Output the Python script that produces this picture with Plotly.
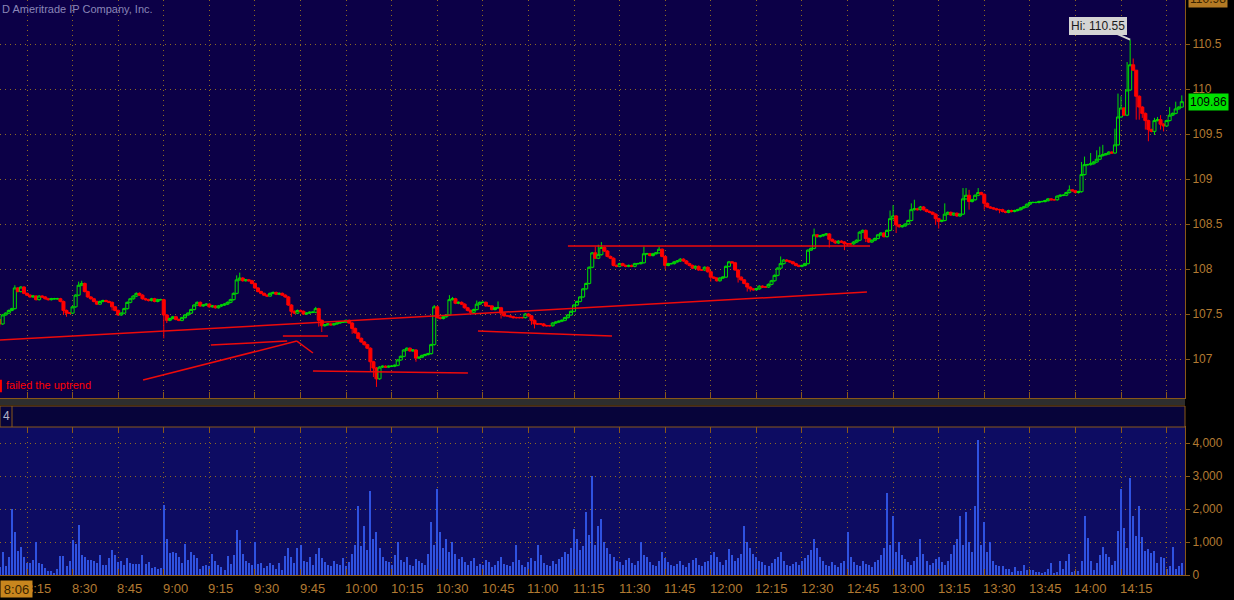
import pandas as pd
import plotly.graph_objects as go

# ---------------- data (1-minute bars, 08:06 .. 14:35) ----------------
SESSION_DAY = "2010-06-01"
SESSION_START = SESSION_DAY + " 08:06"

closes = [
    107.39, 107.49, 107.51, 107.54, 107.56, 107.79, 107.75, 107.80, 107.73, 107.71,
    107.69, 107.70, 107.66, 107.70, 107.69, 107.67, 107.66, 107.67, 107.67, 107.67,
    107.64, 107.54, 107.51, 107.51, 107.58, 107.71, 107.82, 107.84, 107.75, 107.69,
    107.67, 107.64, 107.61, 107.64, 107.65, 107.64, 107.63, 107.58, 107.54, 107.49,
    107.51, 107.56, 107.63, 107.67, 107.70, 107.73, 107.71, 107.67, 107.66, 107.65,
    107.67, 107.64, 107.66, 107.66, 107.49, 107.43, 107.45, 107.47, 107.44, 107.43,
    107.46, 107.49, 107.51, 107.55, 107.60, 107.63, 107.59, 107.60, 107.61, 107.58,
    107.59, 107.57, 107.59, 107.60, 107.61, 107.63, 107.66, 107.73, 107.88, 107.90,
    107.87, 107.88, 107.87, 107.84, 107.79, 107.75, 107.73, 107.71, 107.70, 107.73,
    107.74, 107.72, 107.73, 107.71, 107.69, 107.60, 107.53, 107.51, 107.54, 107.53,
    107.50, 107.51, 107.52, 107.52, 107.56, 107.43, 107.37, 107.38, 107.39, 107.38,
    107.39, 107.40, 107.41, 107.41, 107.43, 107.40, 107.34, 107.29, 107.23, 107.19,
    107.16, 107.12, 106.97, 106.90, 106.78, 106.91, 106.92, 106.91, 106.92, 106.92,
    106.93, 106.99, 107.03, 107.10, 107.12, 107.09, 107.10, 107.01, 107.02, 107.04,
    107.05, 107.06, 107.16, 107.58, 107.46, 107.45, 107.47, 107.49, 107.66, 107.67,
    107.62, 107.63, 107.61, 107.57, 107.54, 107.52, 107.55, 107.61, 107.63, 107.63,
    107.59, 107.59, 107.55, 107.57, 107.57, 107.51, 107.48, 107.48, 107.47, 107.46,
    107.46, 107.46, 107.46, 107.50, 107.48, 107.43, 107.39, 107.39, 107.39, 107.37,
    107.37, 107.37, 107.40, 107.41, 107.42, 107.43, 107.46, 107.49, 107.53, 107.60,
    107.64, 107.69, 107.78, 107.84, 108.02, 108.18, 108.12, 108.16, 108.24, 108.20,
    108.14, 108.12, 108.04, 108.03, 108.06, 108.04, 108.03, 108.04, 108.03, 108.06,
    108.06, 108.07, 108.17, 108.17, 108.15, 108.17, 108.18, 108.22, 108.14, 108.04,
    108.06, 108.06, 108.08, 108.09, 108.11, 108.09, 108.06, 108.04, 108.01, 108.03,
    107.99, 107.99, 108.02, 107.97, 107.91, 107.90, 107.87, 107.90, 107.91, 108.03,
    108.08, 108.07, 107.99, 107.91, 107.88, 107.84, 107.80, 107.78, 107.77, 107.78,
    107.81, 107.80, 107.80, 107.83, 107.87, 107.93, 108.01, 108.06, 108.10, 108.09,
    108.08, 108.06, 108.04, 108.03, 108.04, 108.06, 108.21, 108.23, 108.38, 108.36,
    108.37, 108.38, 108.39, 108.33, 108.31, 108.29, 108.31, 108.30, 108.28, 108.28,
    108.28, 108.30, 108.32, 108.41, 108.43, 108.34, 108.30, 108.32, 108.34, 108.38,
    108.40, 108.36, 108.43, 108.56, 108.59, 108.49, 108.47, 108.48, 108.50, 108.54,
    108.66, 108.67, 108.66, 108.69, 108.66, 108.64, 108.63, 108.61, 108.56, 108.53,
    108.54, 108.61, 108.63, 108.60, 108.62, 108.59, 108.61, 108.78, 108.82, 108.75,
    108.77, 108.82, 108.85, 108.83, 108.73, 108.69, 108.68, 108.67, 108.66, 108.66,
    108.64, 108.63, 108.65, 108.64, 108.65, 108.66, 108.68, 108.69, 108.72, 108.74,
    108.74, 108.74, 108.75, 108.75, 108.76, 108.78, 108.77, 108.77, 108.81, 108.82,
    108.82, 108.85, 108.88, 108.87, 108.85, 108.86, 109.05, 109.16, 109.16, 109.17,
    109.19, 109.22, 109.26, 109.27, 109.28, 109.30, 109.29, 109.38, 109.69, 109.79,
    109.71, 109.99, 110.27, 110.21, 109.92, 109.80, 109.73, 109.65, 109.55, 109.53,
    109.65, 109.66, 109.61, 109.59, 109.65, 109.71, 109.73, 109.78, 109.80, 109.86,
]
first_open = 107.44

# notable wick extremes (bar index -> price)
high_marks = {5: 107.82, 26: 107.86, 27: 107.87, 78: 107.93, 79: 107.96, 104: 107.58,
              143: 107.60, 148: 107.71, 149: 107.69, 157: 107.65, 164: 107.64,
              196: 108.25, 197: 108.27, 198: 108.30, 199: 108.25, 212: 108.25, 217: 108.25,
              257: 108.14, 268: 108.45, 293: 108.65, 294: 108.71, 300: 108.73, 301: 108.77,
              311: 108.73, 317: 108.90, 318: 108.90, 319: 108.88, 322: 108.90, 352: 108.93,
              356: 109.19, 357: 109.25, 359: 109.29, 361: 109.32, 362: 109.36, 363: 109.38,
              367: 109.56, 368: 109.95, 369: 109.92, 371: 110.30, 372: 110.55, 373: 110.34,
              374: 110.21, 380: 109.68, 381: 109.69, 382: 109.71, 385: 109.80, 387: 109.86,
              389: 109.93}
low_marks = {0: 107.36, 21: 107.49, 22: 107.47, 37: 107.54, 54: 107.23, 55: 107.40,
             96: 107.47, 105: 107.36, 106: 107.30, 116: 107.28, 122: 106.86, 123: 106.80,
             124: 106.69, 137: 106.97, 165: 107.45, 175: 107.38, 176: 107.34, 219: 108.00,
             234: 107.86, 243: 107.85, 246: 107.75, 247: 107.75, 273: 108.24, 278: 108.21,
             285: 108.30, 295: 108.40, 308: 108.49, 309: 108.45, 319: 108.66, 324: 108.66,
             329: 108.62, 374: 109.66, 375: 109.66, 376: 109.68, 377: 109.55, 378: 109.42,
             380: 109.49, 382: 109.55, 383: 109.53}
tick_size = 0.01

volumes = [
    253, 707, 283, 556, 2000, 1303, 727, 848, 545, 354,
    354, 455, 990, 364, 333, 212, 121, 121, 40, 182,
    576, 576, 273, 424, 1060, 939, 1515, 606, 545, 455,
    455, 424, 364, 606, 303, 303, 515, 758, 606, 394,
    424, 303, 515, 364, 333, 333, 333, 606, 333, 394,
    212, 242, 182, 212, 2121, 1091, 667, 697, 667, 545,
    364, 939, 455, 697, 606, 515, 182, 273, 303, 273,
    636, 424, 303, 242, 152, 576, 333, 606, 1364, 1060,
    636, 424, 364, 303, 1000, 333, 364, 212, 273, 364,
    303, 182, 364, 152, 576, 818, 545, 364, 818,
    900, 420, 380, 560, 300, 640, 820, 520, 380, 300, 260,
    420, 340, 300, 520, 260, 380, 640, 900,
    2100, 880, 1500, 760, 2550, 1100, 1300, 820,
    540, 420, 380, 300, 600, 1000, 460, 380, 540, 300, 260, 480, 420, 360, 300, 640,
    1600, 900, 2600, 1300, 820, 1100, 700, 1000,
    640, 480, 560, 380, 300, 420, 520, 260, 340, 300, 460, 380, 240, 300, 420, 560, 340, 300, 260, 380,
    900, 460, 300, 240, 380, 520, 420, 900, 600, 360, 300, 260, 420, 340, 480, 560, 700, 640, 820,
    1400, 1100, 760, 880, 1900, 1200, 3000, 900, 1500, 1700, 1000,
    820, 640, 560, 420, 380, 300, 460, 520, 360, 300, 420, 1000, 600, 540, 380, 300, 260, 420, 700, 520,
    380, 300, 260, 340, 420, 300, 240, 360, 460, 520, 300, 260, 380, 420, 600, 700, 540, 380, 300, 460,
    780, 600, 420, 520, 640,
    1500, 1000,
    820, 640, 560, 420, 380, 300, 260, 360, 480, 560, 700, 420, 300, 260, 340, 380, 300, 420, 520, 600,
    760, 1100, 820, 540, 420, 300, 260, 380, 300, 240, 360, 420, 1300, 540, 380, 300, 260, 420, 340, 300,
    240, 380, 460, 600, 820,
    2500, 900, 1800, 700, 1000,
    620, 480, 380, 300, 420, 560, 1100, 640, 420, 300, 360, 480, 560, 380, 300, 420, 640, 900, 1100,
    1800, 900, 1900, 1000, 700, 2100, 4100, 900, 1600, 700, 1000,
    420, 300, 260,
    283, 182, 182, 91, 242, 121, 121, 303, 152, 152,
    152, 91, 91, 61, 91, 182, 364, 61, 91, 424,
    182, 424, 636, 91, 121, 121, 424, 1788, 1121, 424,
    152, 364, 606, 848, 636, 545, 303, 424, 1333, 2606,
    1424, 818, 2939, 1788, 1182, 2091, 1151, 727, 788, 667,
    727, 364, 545, 515, 182, 273, 848, 182, 273, 364,
]

price_ticks = [107, 107.5, 108, 108.5, 109, 109.5, 110, 110.5]
volume_ticks = [0, 1000, 2000, 3000, 4000]
time_labels = ["8:15", "8:30", "8:45", "9:00", "9:15", "9:30", "9:45", "10:00", "10:15",
               "10:30", "10:45", "11:00", "11:15", "11:30", "11:45", "12:00", "12:15",
               "12:30", "12:45", "13:00", "13:15", "13:30", "13:45", "14:00", "14:15"]

# hand-drawn trend lines (start time, start price, end time, end price)
trend_lines = [
    ("08:06:07", 107.211, "12:51:24", 107.744),
    ("11:13:00", 108.256, "12:52:24", 108.256),
    ("08:53:12", 106.767, "09:43:48", 107.200),
    ("09:43:48", 107.200, "09:49:06", 107.067),
    ("09:15:30", 107.156, "09:40:36", 107.200),
    ("09:39:12", 107.256, "09:54:03", 107.256),
    ("09:49:06", 106.867, "10:40:06", 106.844),
    ("10:43:24", 107.311, "11:27:30", 107.256),
]
note_text = "failed the uptrend"
note_time, note_price = "08:07:30", 106.71
hi_value = 110.55
last_value = 109.86
axis_top_value = "110.98"
start_label = "8:06"
copyright_text = "D Ameritrade IP Company, Inc."

# ---------------- build OHLC ----------------
n = min(len(closes), len(volumes))
closes = closes[:n]
volumes = volumes[:n]
times = pd.date_range(SESSION_START, periods=n, freq="min")
opens = [first_open] + closes[:-1]
highs = [high_marks.get(i, max(o, c) + tick_size) for i, (o, c) in enumerate(zip(opens, closes))]
lows = [low_marks.get(i, min(o, c) - tick_size) for i, (o, c) in enumerate(zip(opens, closes))]
hi_index = max(range(n), key=lambda i: highs[i])

# ---------------- styling constants ----------------
W, H = 1234, 600
PLOT_RIGHT = 1185
XDOM = [0, PLOT_RIGHT / W]
PRICE_DOM = [1 - 398 / H, 1.0]
VOL_DOM = [1 - 575 / H, 1 - 427 / H]
BG_PRICE = "#0c0047"
BG_VOL = "#0d0c62"
BROWN = "#8a5818"
LABEL = "#b27a32"
GRID = "#8f6a22"
GREEN = "#00dd00"
RED = "#ff0000"
FONT = "Liberation Sans"

x_range = [SESSION_DAY + " 08:06:07", SESSION_DAY + " 14:36:03"]

fig = go.Figure()
fig.add_trace(go.Candlestick(
    x=times, open=opens, high=highs, low=lows, close=closes,
    xaxis="x", yaxis="y",
    increasing=dict(line=dict(color=GREEN, width=1), fillcolor=BG_PRICE),
    decreasing=dict(line=dict(color=RED, width=1), fillcolor=RED),
    whiskerwidth=0, showlegend=False, hoverinfo="skip",
))
fig.add_trace(go.Bar(
    x=times, y=volumes, xaxis="x2", yaxis="y2",
    width=20000, marker=dict(color="#2f52e0", line=dict(width=0)),
    showlegend=False, hoverinfo="skip",
))

grid_common = dict(showgrid=True, gridcolor=GRID, griddash="1px,4px", gridwidth=1,
                   zeroline=False, automargin=False)
x_common = dict(type="date", range=x_range, domain=XDOM, tick0=SESSION_DAY + " 08:15",
                dtick=15 * 60 * 1000, showticklabels=False, ticks="inside", ticklen=6,
                tickcolor=BROWN, showline=True, linecolor=BROWN, linewidth=1,
                rangeslider=dict(visible=False), **grid_common)

fig.update_layout(
    width=W, height=H, autosize=False, margin=dict(l=0, r=0, t=0, b=0, pad=0, autoexpand=False),
    paper_bgcolor="#000000", plot_bgcolor=BG_PRICE,
    boxgap=0.0, boxgroupgap=0.0, bargap=0,
    font=dict(family=FONT, size=12, color=LABEL),
    xaxis=dict(anchor="y", mirror=True, **x_common),
    xaxis2=dict(anchor="y2", matches="x", mirror="ticks", **x_common),
    yaxis=dict(domain=PRICE_DOM, anchor="x", side="right", range=[106.567, 110.99],
               tickvals=price_ticks, ticks="outside", ticklen=4, tickcolor=BROWN,
               showline=True, linecolor=BROWN, mirror=True,
               tickfont=dict(family=FONT, size=12, color=LABEL), **grid_common),
    yaxis2=dict(domain=VOL_DOM, anchor="x2", side="right", range=[0, 4485],
                tickvals=volume_ticks, tickformat=",", ticks="outside", ticklen=4,
                tickcolor=BROWN, showline=True, linecolor=BROWN, mirror=True,
                tickfont=dict(family=FONT, size=12, color=LABEL), **grid_common),
)

shapes = []
# volume panel background
shapes.append(dict(type="rect", xref="x2 domain", yref="y2 domain", x0=0, x1=1, y0=0, y1=1,
                   fillcolor=BG_VOL, line=dict(width=0), layer="below"))
# separator band and header strip between panels
shapes.append(dict(type="rect", xref="paper", yref="paper", x0=0, x1=PLOT_RIGHT / W,
                   y0=1 - 405 / H, y1=1 - 399 / H, fillcolor="#2e2e2e", line=dict(width=0)))
shapes.append(dict(type="rect", xref="paper", yref="paper", x0=0, x1=PLOT_RIGHT / W,
                   y0=1 - 427 / H, y1=1 - 406 / H, fillcolor="#07043a",
                   line=dict(color=BROWN, width=1)))
shapes.append(dict(type="line", xref="paper", yref="paper", x0=12 / W, x1=12 / W,
                   y0=1 - 427 / H, y1=1 - 406 / H, line=dict(color=BROWN, width=1)))
# trend lines
for t0, p0, t1, p1 in trend_lines:
    shapes.append(dict(type="line", xref="x", yref="y",
                       x0=f"{SESSION_DAY} {t0}", y0=p0, x1=f"{SESSION_DAY} {t1}", y1=p1,
                       line=dict(color="#ee0a0a", width=1.5)))
# small marker at the note
shapes.append(dict(type="line", xref="x", yref="y",
                   x0=f"{SESSION_DAY} 08:06:25", x1=f"{SESSION_DAY} 08:06:25",
                   y0=106.63, y1=106.77, line=dict(color=RED, width=2)))
fig.update_layout(shapes=shapes)

ann = []
for lab in time_labels:
    hh, mm = lab.split(":")
    ann.append(dict(xref="x2", yref="paper", x=f"{SESSION_DAY} {int(hh):02d}:{mm}",
                    y=1 - 588 / H, text=lab, showarrow=False, xanchor="left", yanchor="middle",
                    xshift=-3, font=dict(family=FONT, size=13, color=LABEL)))
ann.append(dict(xref="paper", yref="paper", x=0, y=1 - 588.5 / H, text=start_label,
                showarrow=False, xanchor="left", yanchor="middle", bgcolor="#c8861e",
                width=29, height=14, align="center", borderpad=1,
                font=dict(family=FONT, size=13, color="#3a2400")))
ann.append(dict(xref="paper", yref="paper", x=0, y=1 - 1 / H, text=copyright_text,
                showarrow=False, xanchor="left", yanchor="top",
                font=dict(family=FONT, size=11, color="#8a86b8")))
ann.append(dict(xref="x", yref="y", x=f"{SESSION_DAY} {note_time}", y=note_price,
                text=note_text, showarrow=False, xanchor="left", yanchor="middle",
                font=dict(family=FONT, size=11, color=RED)))
ann.append(dict(xref="paper", yref="paper", x=1 / W, y=1 - 416 / H, text="4",
                showarrow=False, xanchor="left", yanchor="middle",
                font=dict(family=FONT, size=12, color="#b4b4c8")))
ann.append(dict(xref="x", yref="y", x=times[hi_index], y=hi_value,
                text=f"Hi: {hi_value:.2f}", showarrow=True, arrowhead=0, arrowwidth=2,
                arrowcolor="#d4d4d4", ax=-32, ay=-14, standoff=0, bgcolor="#d4d4d4",
                bordercolor="#d4d4d4", borderpad=1,
                font=dict(family=FONT, size=12, color="#1a1a1a")))
ann.append(dict(xref="paper", yref="y", x=1188 / W, y=last_value, text=f"{last_value:.2f}",
                showarrow=False, xanchor="left", yanchor="middle", bgcolor="#00e000",
                borderpad=1, font=dict(family=FONT, size=12, color="#000000")))
ann.append(dict(xref="paper", yref="paper", x=1188 / W, y=1.0, yshift=1, text=axis_top_value,
                showarrow=False, xanchor="left", yanchor="middle", bgcolor="#b47a24",
                borderpad=1, font=dict(family=FONT, size=12, color="#3a2400")))
fig.update_layout(annotations=ann)

fig.write_html(
    "out.html",
    config={"displayModeBar": False, "responsive": False},
    post_script="document.body.style.margin='0';document.body.style.overflow='hidden';",
)
